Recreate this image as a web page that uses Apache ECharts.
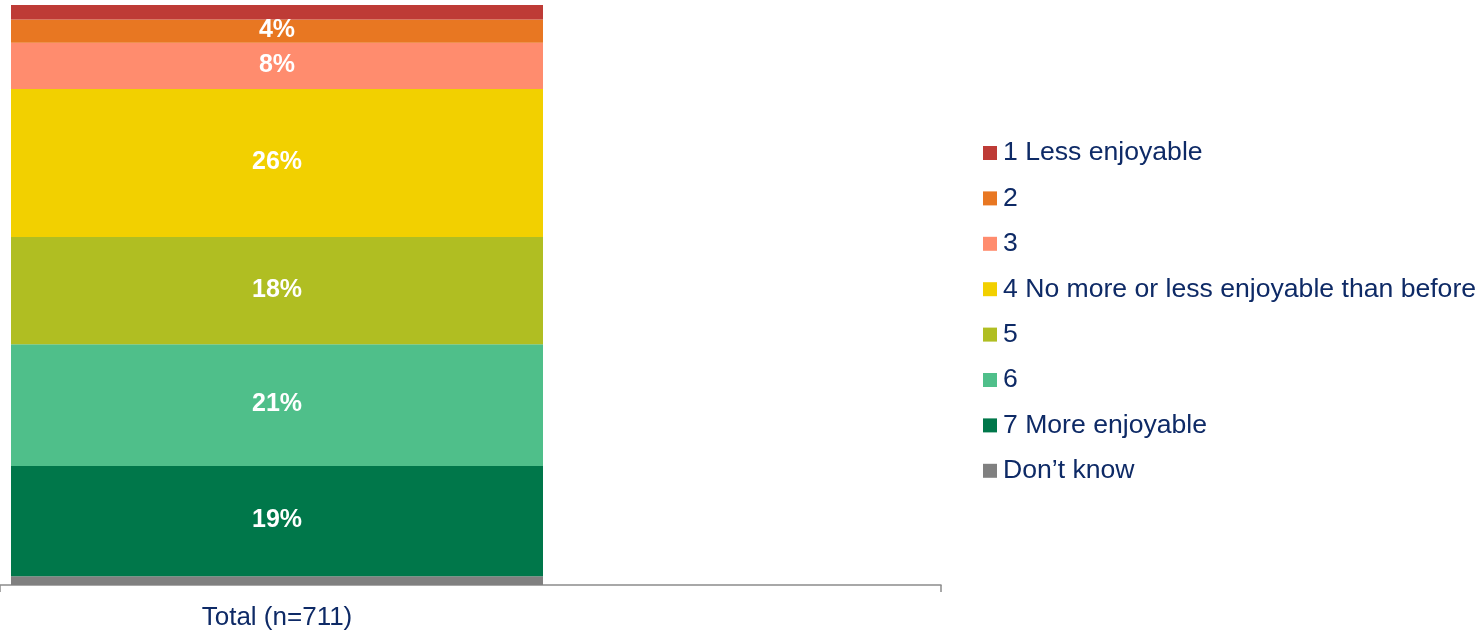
<!DOCTYPE html>
<html>
<head>
<meta charset="utf-8">
<script src="https://cdn.jsdelivr.net/npm/echarts@6/dist/echarts.min.js"></script>
<style>html,body{margin:0;padding:0;background:#fff}#c{width:1483px;height:631px}</style>
</head>
<body>
<div id="c"></div>
<script>
const categories = ['Total (n=711)'];
const seriesNames = ["Don\u2019t know", '7 More enjoyable', '6', '5', '4 No more or less enjoyable than before', '3', '2', '1 Less enjoyable'];
const seriesValues = [1.5, 19, 21, 18.5, 25.5, 8, 4, 2.5];
const seriesLabels = ['', '19%', '21%', '18%', '26%', '8%', '4%', ''];
const legendOrder = ['1 Less enjoyable', '2', '3', '4 No more or less enjoyable than before', '5', '6', '7 More enjoyable', "Don\u2019t know"];
const colors = ['#808080', '#00774A', '#4FBF8A', '#B0BE22', '#F2D000', '#FF8C6E', '#E87722', '#BE3B36'];

const chart = echarts.init(document.getElementById('c'));
const FONT = '"Liberation Sans", Arial, sans-serif';
const series = seriesNames.map((n, i) => ({
  name: n,
  type: 'bar',
  stack: 'total',
  xAxisIndex: 0,
  yAxisIndex: 0,
  barWidth: 532,
  itemStyle: { color: colors[i] },
  label: {
    show: seriesLabels[i] !== '',
    position: 'inside',
    offset: [0, -1],
    color: '#fff',
    fontWeight: 'bold',
    fontSize: 25,
    fontFamily: FONT,
    formatter: () => seriesLabels[i]
  },
  data: [seriesValues[i]]
}));

chart.setOption({
  animation: false,
  textStyle: { fontFamily: FONT },
  grid: [
    { left: 0, width: 554, top: 5, bottom: 46, containLabel: false },
    { left: 0, right: 542, top: 5, bottom: 46, containLabel: false }
  ],
  xAxis: [
    { type: 'category', gridIndex: 0, data: categories,
      axisLine: { show: false }, axisTick: { show: false },
      axisLabel: { color: '#0E2A66', fontSize: 26, fontFamily: FONT, margin: 20 } },
    { type: 'value', gridIndex: 1, min: 0, max: 1, interval: 1,
      axisLine: { show: true, lineStyle: { color: '#8C8C8C', width: 1.5 } },
      axisTick: { show: true, length: 7, lineStyle: { color: '#8C8C8C', width: 1.5 } },
      axisLabel: { show: false }, splitLine: { show: false } }
  ],
  yAxis: [
    { type: 'value', gridIndex: 0, min: 0, max: 100, show: false },
    { type: 'value', gridIndex: 1, min: 0, max: 1, show: false }
  ],
  legend: {
    orient: 'vertical',
    left: 978,
    top: 133,
    data: legendOrder,
    icon: 'rect',
    itemWidth: 14,
    itemHeight: 14,
    itemGap: 15.4,
    textStyle: { color: '#0E2A66', fontSize: 26.6, lineHeight: 30, fontFamily: FONT, padding: [0, 0, 0, 1] },
    selectedMode: false
  },
  series: series
});
</script>
</body>
</html>
